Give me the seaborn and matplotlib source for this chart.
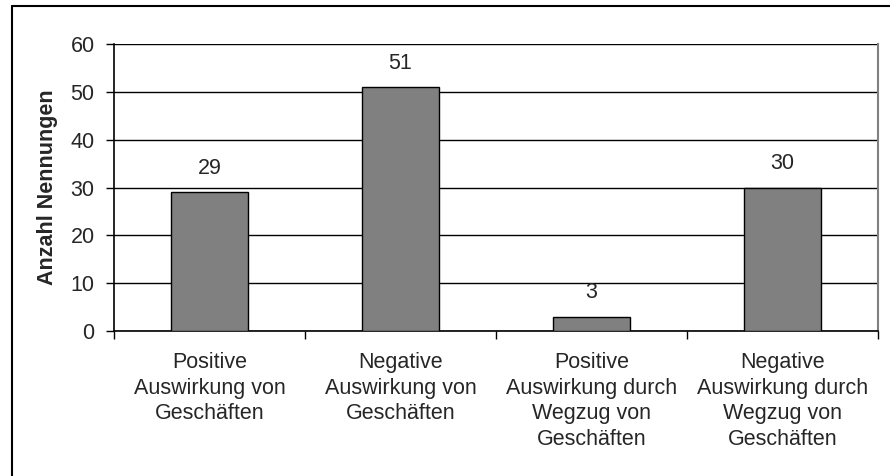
import matplotlib
matplotlib.use("Agg")
import matplotlib.pyplot as plt
import seaborn as sns
import pandas as pd
from matplotlib.lines import Line2D

categories = [
    "Positive\nAuswirkung von\nGeschäften",
    "Negative\nAuswirkung von\nGeschäften",
    "Positive\nAuswirkung durch\nWegzug von\nGeschäften",
    "Negative\nAuswirkung durch\nWegzug von\nGeschäften",
]
values = [29, 51, 3, 30]
y_ticks = [0, 10, 20, 30, 40, 50, 60]
y_label = "Anzahl Nennungen"

sns.set_style("white")
plt.rcParams["font.family"] = ["Liberation Sans", "DejaVu Sans"]

W, H = 890, 476
fig = plt.figure(figsize=(W / 100, H / 100), dpi=100)
fig.patch.set_facecolor("white")

ax = fig.add_axes([114 / W, 1 - 331 / H, (878 - 114) / W, (331 - 44) / H])
df = pd.DataFrame({"cat": categories, "val": values})
sns.barplot(data=df, x="cat", y="val", ax=ax, color="#808080", width=0.40,
            edgecolor="black", linewidth=1.0, saturation=1, zorder=3)

ax.set_ylim(0, 60)
ax.set_xlim(-0.5, 3.5)
ax.set_yticks(y_ticks)
ax.set_yticklabels([str(t) for t in y_ticks], fontsize=15.5)
ax.yaxis.grid(True, color="black", linewidth=1.0, zorder=0)
ax.set_axisbelow(True)

# x ticks: labels at centers, tick marks at boundaries
ax.set_xticks(range(len(categories)))
ax.set_xticklabels(categories, fontsize=15.5, linespacing=1.3, va="top")
ax.tick_params(axis="x", which="major", length=0, pad=15)
ax.set_xticks([i - 0.5 for i in range(len(categories) + 1)], minor=True)
ax.tick_params(axis="x", which="minor", length=6, width=1.0, color="black", direction="out", bottom=True)
ax.tick_params(axis="y", length=6, width=1.0, color="black", direction="out", left=True, pad=8)

ax.set_xlabel("")
ax.set_ylabel(y_label, fontsize=15.5, fontweight="bold", labelpad=9)

for s in ["left", "bottom"]:
    ax.spines[s].set_color("black")
    ax.spines[s].set_linewidth(1.2)
ax.spines["top"].set_visible(False)
ax.spines["right"].set_color("#808080")
ax.spines["right"].set_linewidth(1.5)

for i, v in enumerate(values):
    ax.annotate(str(v), (i, v), xytext=(0, 9.5), textcoords="offset points",
                ha="center", va="bottom", fontsize=15.5)

# outer chart border (top and left visible; right/bottom cut off)
fig.add_artist(Line2D([11.5 / W, 11.5 / W], [0, 1 - 5.5 / H], transform=fig.transFigure,
                      color="black", linewidth=1.5))
fig.add_artist(Line2D([11.5 / W, 1], [1 - 5.5 / H, 1 - 5.5 / H], transform=fig.transFigure,
                      color="black", linewidth=1.5))

fig.savefig("out.png", dpi=100)
